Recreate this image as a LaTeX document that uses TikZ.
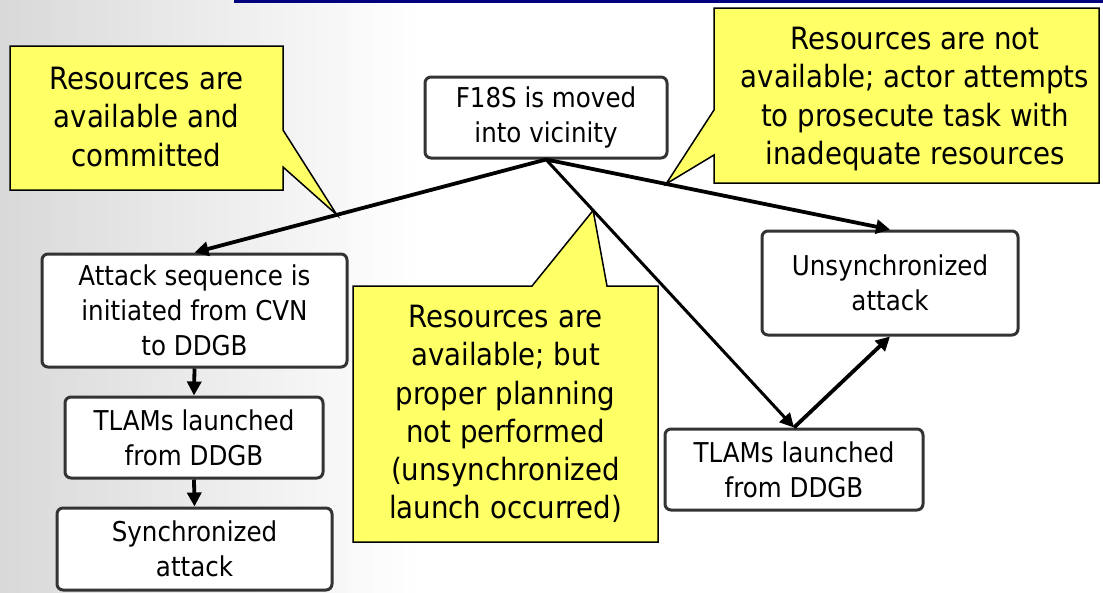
\documentclass[tikz,border=0pt]{standalone}
\usepackage{fontspec}
\setmainfont{DejaVu Sans}[FakeStretch=0.9]
\usetikzlibrary{arrows.meta,backgrounds}
\definecolor{calloutyellow}{HTML}{FFFF66}
\definecolor{boxborder}{HTML}{333333}
\definecolor{topblue}{HTML}{000080}
\begin{document}
\begin{tikzpicture}[x=1pt,y=-1pt,
  box/.style={draw=boxborder, line width=3pt, rounded corners=6pt, fill=white, align=center, inner sep=0pt, font=\fontsize{27.3}{35}\selectfont},
  callouttext/.style={align=center, inner sep=0pt, font=\fontsize{30.7}{38.3}\selectfont},
  calloutshape/.style={fill=calloutyellow, draw=black, line width=1.5pt, line join=miter},
  arr/.style={line width=3.8pt, -{Triangle[length=14pt,width=14pt]}},
  arrthin/.style={line width=3pt, -{Triangle[length=14pt,width=14pt]}},
]
\useasboundingbox (0,0) rectangle (1103,592);

\node[box, minimum width=242pt, minimum height=81pt] (f18) at (546,117.5) {F18S is moved\\into vicinity};
\node[box, minimum width=305pt, minimum height=113pt] (attack) at (194.5,310.5) {Attack sequence is\\initiated from CVN\\to DDGB};
\node[box, minimum width=258pt, minimum height=81pt] (tlamsL) at (194,437.5) {TLAMs launched\\from DDGB};
\node[box, minimum width=275pt, minimum height=82pt] (sync) at (194.5,549) {Synchronized\\attack};
\node[box, minimum width=256pt, minimum height=104pt] (unsync) at (890,283) {Unsynchronized\\attack};
\node[box, minimum width=258pt, minimum height=81pt] (tlamsR) at (794,469.5) {TLAMs launched\\from DDGB};

\node[callouttext] (cL) at (146.5,117) {Resources are\\available and\\committed};
\node[callouttext] (cR) at (915,99) {Resources are not\\available; actor attempts\\to prosecute task with\\inadequate resources};
\node[callouttext] (cM) at (505.5,414) {Resources are\\available; but\\proper planning\\not performed\\(unsynchronized\\launch occurred)};

\draw[arr] (f18.south) -- coordinate[pos=0.595] (tipL) (attack.north);
\draw[arr] (f18.south) -- coordinate[pos=0.349] (tipR) (unsync.north);
\draw[arrthin] (f18.south) -- coordinate[pos=0.19] (tipM) (tlamsR.north);
\draw[arr] (tlamsR.north) -- (unsync.south);
\draw[arr] (attack.south) -- (tlamsL.north);
\draw[arr] (tlamsL.south) -- (sync.north);

\begin{pgfonlayer}{background}
  \fill[white] (0,0) rectangle (1103,592);
  \shade[left color=gray!30, right color=white] (0,0) rectangle (420,592);
  \draw[line width=2.5pt, topblue] (234,1.25) -- (1103,1.25);
  \draw[calloutshape] (10,46) -- (283,46) -- (283,130) -- (tipL) -- (283,167) -- (283,190) -- (10,190) -- cycle;
  \draw[calloutshape] (714,8) -- (1099,8) -- (1099,183) -- (714,183) -- (714,155) -- (tipR) -- (714,110) -- cycle;
  \draw[calloutshape] (353,286) -- (532,286) -- (tipM) -- (607,286) -- (658,286) -- (658,542) -- (353,542) -- cycle;
\end{pgfonlayer}
\end{tikzpicture}
\end{document}
